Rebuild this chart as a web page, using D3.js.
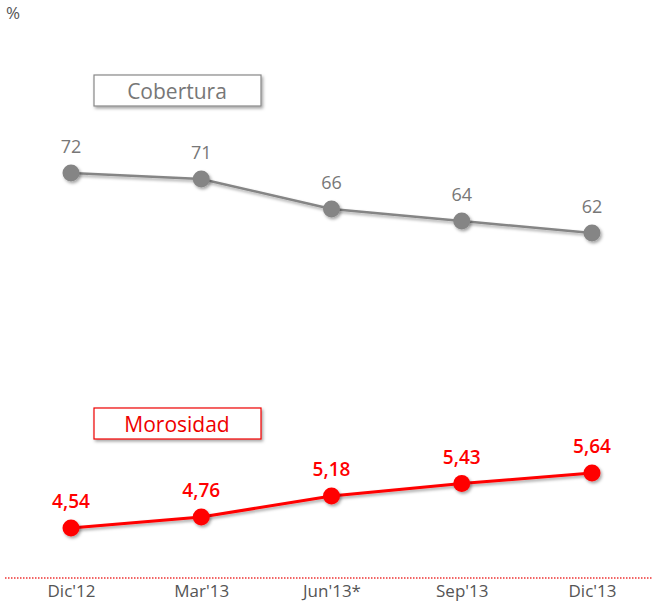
<!DOCTYPE html>
<html>
<head>
<meta charset="utf-8">
<script src="https://cdn.jsdelivr.net/npm/d3@7"></script>
<style>
  body { margin: 0; background: #fff; }
  text { font-family: "Open Sans", sans-serif; }
</style>
</head>
<body>
<svg width="653" height="606"></svg>
<script>
// data
const periods = ["Dic'12", "Mar'13", "Jun'13*", "Sep'13", "Dic'13"];
const cobertura = [72, 71, 66, 64, 62];
const morosidad = [4.54, 4.76, 5.18, 5.43, 5.64];
const coberturaLabels = ['72', '71', '66', '64', '62'];
const morosidadLabels = ['4,54', '4,76', '5,18', '5,43', '5,64'];

const svg = d3.select('svg');
const width = +svg.attr('width');

// drop shadow
const defs = svg.append('defs');
const f = defs.append('filter').attr('id', 'shadow')
    .attr('x', '-30%').attr('y', '-30%').attr('width', '160%').attr('height', '160%');
f.append('feDropShadow').attr('dx', 1.5).attr('dy', 2).attr('stdDeviation', 1.5)
    .attr('flood-color', '#000').attr('flood-opacity', 0.35);

const xScale = d3.scalePoint()
    .domain(periods)
    .range([71, 592]);

const yCob = d3.scaleLinear().domain([60, 75]).range([245, 155]);
const yMor = d3.scaleLinear().domain([4, 6]).range([555, 455]);

// % label
svg.append('text')
    .attr('x', 6).attr('y', 19)
    .style('font-size', '17px')
    .style('fill', '#555')
    .text('%');

// legend boxes
const legend = (y, label, stroke, color) => {
    svg.append('rect')
        .attr('x', 94).attr('y', y)
        .attr('width', 167).attr('height', 31)
        .attr('fill', '#fff')
        .attr('stroke', stroke)
        .attr('stroke-width', 1.2)
        .attr('filter', 'url(#shadow)');
    svg.append('text')
        .attr('x', 177).attr('y', y + 16)
        .attr('text-anchor', 'middle')
        .attr('dominant-baseline', 'central')
        .style('font-size', '21px')
        .style('fill', color)
        .text(label);
};
legend(75, 'Cobertura', '#888', '#777');
legend(408, 'Morosidad', '#e00', '#e00');

// series
const drawSeries = (values, labels, yScale, color, labelColor, lw, weight, fs) => {
    const line = d3.line()
        .x((d, i) => xScale(periods[i]))
        .y(d => yScale(d));
    const g = svg.append('g');
    g.append('path')
        .datum(values)
        .attr('d', line)
        .attr('fill', 'none')
        .attr('stroke', color)
        .attr('stroke-width', lw)
        .attr('filter', 'url(#shadow)');
    g.selectAll('circle').data(values)
        .enter().append('circle')
        .attr('cx', (d, i) => xScale(periods[i]))
        .attr('cy', d => yScale(d))
        .attr('r', 8.5)
        .attr('fill', color)
        .attr('filter', 'url(#shadow)');
    g.selectAll('text').data(values)
        .enter().append('text')
        .attr('x', (d, i) => xScale(periods[i]))
        .attr('y', d => yScale(d) - 20)
        .attr('text-anchor', 'middle')
        .style('font-size', fs)
        .style('font-weight', weight)
        .style('fill', labelColor)
        .text((d, i) => labels[i]);
};
drawSeries(cobertura, coberturaLabels, yCob, '#858585', '#777', 2.5, 400, '18px');
drawSeries(morosidad, morosidadLabels, yMor, '#f00', '#f00', 3, 600, '19px');

// baseline
svg.append('line')
    .attr('x1', 5).attr('x2', width)
    .attr('y1', 578).attr('y2', 578)
    .attr('stroke', '#e33')
    .attr('stroke-width', 1.5)
    .attr('stroke-dasharray', '1.5,1.5');

// x axis labels
const xAxis = d3.axisBottom(xScale).tickSize(0).tickPadding(0);
const xAxisG = svg.append('g')
    .attr('transform', 'translate(0,583)')
    .call(xAxis);
xAxisG.select('.domain').remove();
xAxisG.selectAll('text')
    .attr('dy', '0.85em')
    .style('font-family', '"Open Sans", sans-serif')
    .style('font-size', '17px')
    .style('fill', '#555');
</script>
</body>
</html>
